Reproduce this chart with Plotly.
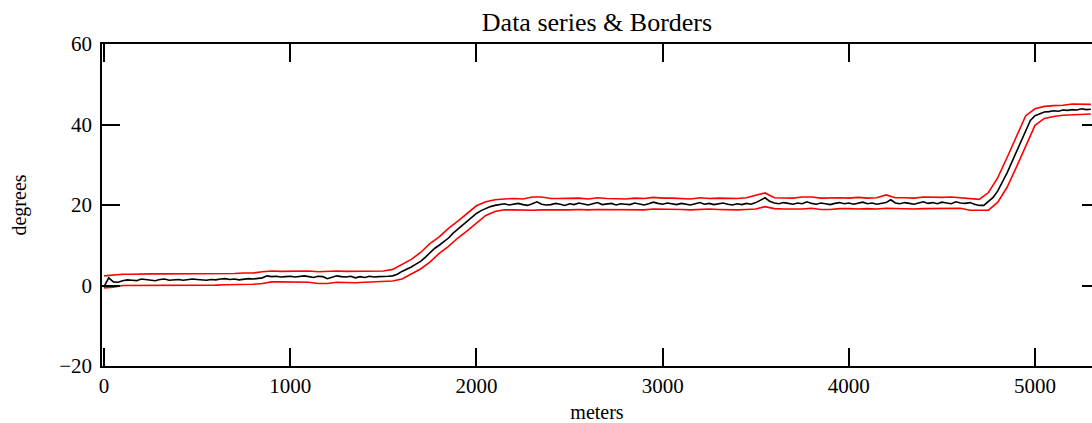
import plotly.graph_objects as go

# distance grid (meters) for the measured series, 25 m sampling
series_step = 25
border_step = 50

# measured data series (degrees), x = 0 .. 5300 step 25
series_values = [
    -0.3, 1.9, 0.9, 0.8, 1.2, 1.4, 1.3, 1.2, 1.6, 1.5, 1.4, 1.2, 1.5, 1.6, 1.3, 1.4, 1.5, 1.3,
    1.4, 1.6, 1.5, 1.4, 1.3, 1.5, 1.4, 1.6, 1.7, 1.5, 1.6, 1.4, 1.5, 1.7, 1.6, 1.8, 1.9,
    2.4, 2.2, 2.3, 2.1, 2.2, 2.3, 2.1, 2.2, 2.4, 2.2, 2.0, 2.3, 2.2, 1.7, 2.0, 2.4, 2.2, 2.1,
    2.3, 1.9, 2.2, 2.0, 2.3, 2.1, 2.2, 2.2, 2.3, 2.4,
    2.8, 3.5, 4.0, 4.6, 5.3, 6.0, 7.0, 8.2, 9.2, 10.0, 10.9, 11.8, 13.0, 14.0, 14.8, 15.8,
    16.8, 17.9, 18.6, 19.2, 19.6, 19.9,
    20.1, 20.3, 20.0, 20.2, 20.4, 20.1, 19.9, 20.3, 20.8, 20.2, 20.0, 20.1, 20.4, 20.2, 19.9, 20.3,
    20.1, 20.5, 20.2, 20.0, 20.3, 20.6, 20.1, 20.2, 20.4, 20.0, 20.3, 20.2, 20.1, 20.5, 20.2, 20.0,
    20.3, 20.7, 20.4, 20.2, 20.5, 20.3, 20.1, 20.4, 20.2, 20.0, 20.3, 20.6, 20.2, 20.4, 20.1, 20.3,
    20.5, 20.2, 20.0, 20.3, 20.1, 20.4, 20.2, 20.6, 21.2, 21.8, 20.9, 20.5, 20.3, 20.6, 20.4, 20.2,
    20.5, 20.3, 20.8, 20.4, 20.2, 20.5, 20.3, 20.1, 20.4, 20.6, 20.3, 20.5, 20.2, 20.4, 20.7, 20.3,
    20.5, 20.2, 20.4, 20.6, 21.3, 20.5, 20.3, 20.6, 20.4, 20.2, 20.5, 20.8, 20.4, 20.6, 20.3, 20.7,
    20.5, 20.3, 20.8, 20.5, 20.4, 20.6, 20.2, 19.9, 19.9,
    20.8, 21.9, 23.5, 25.6, 28.0, 30.6, 33.2, 36.0, 38.8, 41.0, 42.2,
    42.7, 43.1, 43.2, 43.4, 43.3, 43.6, 43.5, 43.7, 43.6, 43.9, 43.7, 43.8,
]

# upper border (degrees), x = 0 .. 5300 step 50
upper_border = [
    2.4, 2.6, 2.8, 2.8, 2.9, 2.9, 2.9, 2.9, 2.9, 2.9, 2.9, 2.9, 2.9, 3.0, 3.0, 3.1, 3.1, 3.4,
    3.6, 3.5, 3.5, 3.5, 3.6, 3.4, 3.5, 3.6, 3.5, 3.5, 3.5, 3.5, 3.6,
    4.0, 5.2, 6.5, 8.2, 10.4, 12.1, 14.2, 16.0, 18.0, 19.8, 20.8, 21.3,
    21.5, 21.6, 21.5, 22.0, 22.0, 21.6, 21.6, 21.7, 21.7, 21.5,
    21.8, 21.6, 21.5, 21.5, 21.7, 21.6, 21.9, 21.7, 21.7, 21.6,
    21.5, 21.8, 21.6, 21.7, 21.7, 21.6, 21.8, 22.4, 23.0, 21.8,
    21.8, 21.7, 22.0, 22.0, 21.7, 21.8, 21.8, 21.7, 21.9, 21.7,
    21.8, 22.5, 21.8, 21.8, 21.7, 22.0, 21.9, 21.9, 22.0, 21.8,
    21.6,
    21.4, 23.1, 26.8, 31.8, 37.2, 42.2, 43.9, 44.5, 44.7, 44.8, 45.1, 45.1, 45.0,
]

# lower border (degrees), x = 0 .. 5300 step 50
lower_border = [
    -0.6, -0.4, 0.0, 0.0, 0.0, 0.1, 0.1, 0.1, 0.1, 0.1, 0.1, 0.1, 0.1, 0.2, 0.2, 0.2, 0.3, 0.5,
    0.9, 0.9, 0.9, 0.8, 0.8, 0.5, 0.5, 0.8, 0.7, 0.7, 0.8, 0.9, 1.0,
    1.1, 1.6, 2.8, 4.1, 5.8, 8.0, 9.7, 11.8, 13.6, 15.6, 17.4, 18.4,
    18.8, 18.8, 18.7, 18.7, 18.8, 18.8, 18.7, 18.8, 18.9, 18.8,
    18.9, 18.9, 18.8, 18.9, 18.8, 18.8, 19.0, 19.0, 18.9, 18.9,
    18.8, 18.9, 19.0, 18.9, 18.8, 18.8, 18.9, 19.0, 19.6, 19.1,
    19.0, 19.0, 19.0, 19.2, 18.9, 18.9, 19.1, 19.1, 19.0, 19.1,
    19.0, 19.2, 19.1, 19.0, 19.0, 19.1, 19.1, 19.1, 19.1, 19.2,
    18.7,
    18.7, 18.7, 20.7, 24.4, 29.4, 34.8, 39.8, 41.5, 42.0, 42.3, 42.4, 42.5, 42.6,
]

x_ticks = [0, 1000, 2000, 3000, 4000, 5000]
y_ticks = [-20, 0, 20, 40, 60]

series_x = [i * series_step for i in range(len(series_values))]
border_x = [i * border_step for i in range(len(upper_border))]

FONT = "Liberation Serif, Times New Roman, serif"

fig = go.Figure()
fig.add_trace(go.Scatter(x=border_x, y=upper_border, mode="lines",
                         line=dict(color="#ff0000", width=1.6),
                         showlegend=False, hoverinfo="skip"))
fig.add_trace(go.Scatter(x=border_x, y=lower_border, mode="lines",
                         line=dict(color="#ff0000", width=1.6),
                         showlegend=False, hoverinfo="skip"))
fig.add_trace(go.Scatter(x=series_x, y=series_values, mode="lines",
                         line=dict(color="#000000", width=1.6),
                         showlegend=False))
# invisible trace so the right-hand tick axis is drawn
fig.add_trace(go.Scatter(x=[], y=[], yaxis="y2", showlegend=False))

fig.update_layout(
    width=1092, height=423,
    margin=dict(l=102, r=0, t=44, b=57),
    paper_bgcolor="white", plot_bgcolor="white",
    font=dict(family=FONT, color="black", size=20),
    title=dict(text="Data series &amp; Borders", x=0.5, xref="paper",
               y=0.948, yanchor="middle", font=dict(family=FONT, size=26)),
    xaxis=dict(range=[-11, 5306], tickvals=x_ticks, ticks="inside", ticklen=18,
               tickwidth=1.5, tickcolor="black", showline=True, linecolor="black",
               linewidth=1.5, mirror="ticks", showgrid=False, zeroline=False,
               tickfont=dict(size=21),
               title=dict(text="meters", font=dict(size=20), standoff=9)),
    yaxis=dict(range=[-20, 60], tickvals=y_ticks, ticks="inside", ticklen=18,
               tickwidth=1.5, tickcolor="black", showline=True, linecolor="black",
               linewidth=1.5, showgrid=False, zeroline=False,
               tickfont=dict(size=21), ticklabelstandoff=4,
               title=dict(text="degrees", font=dict(size=20), standoff=27)),
    yaxis2=dict(range=[-20, 60], tickvals=y_ticks, overlaying="y", side="right",
                ticks="inside", ticklen=10, tickwidth=1.5, tickcolor="black",
                showline=False, showgrid=False, zeroline=False, showticklabels=False),
)

fig.write_html("out.html", config={"displayModeBar": False},
               post_script="document.body.style.margin='0';document.body.style.overflow='hidden';")
